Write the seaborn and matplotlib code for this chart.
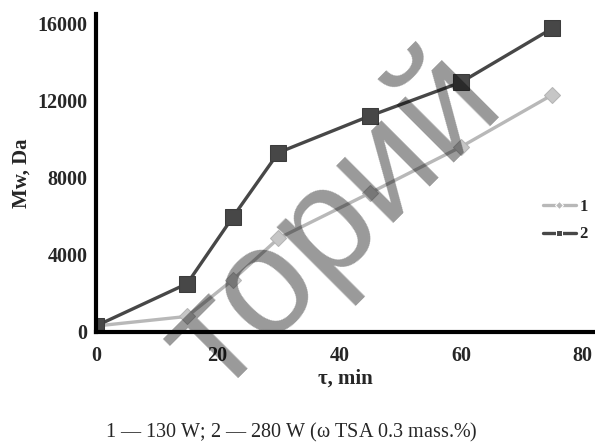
import matplotlib
matplotlib.use('Agg')
import matplotlib.pyplot as plt
import pandas as pd
import seaborn as sns

# values
time_min = [0, 15, 22.5, 30, 45, 60, 75]
mw_130 = [300, 800, 2700, 4850, 7200, 9600, 12300]
mw_280 = [300, 2500, 5950, 9300, 11200, 12950, 15750]
series_names = ['1', '2']
x_ticks = [0, 20, 40, 60, 80]
y_ticks = [0, 4000, 8000, 12000, 16000]

data = pd.DataFrame({
    'time': time_min * 2,
    'mw': mw_130 + mw_280,
    'series': [series_names[0]] * len(time_min) + [series_names[1]] * len(time_min),
})

sns.set_style('white')
plt.rcParams['font.family'] = ['Liberation Serif', 'DejaVu Serif']
plt.rcParams['mathtext.fontset'] = 'custom'
plt.rcParams['mathtext.rm'] = 'Liberation Serif'
plt.rcParams['mathtext.it'] = 'Liberation Serif:italic'

fig = plt.figure(figsize=(5.95, 4.46), dpi=100)
ax = fig.add_axes([0.161, 0.256, 0.839, 0.713])

palette = {'1': '#b8b8b8', '2': '#474747'}
sns.lineplot(data=data, x='time', y='mw', hue='series', style='series',
             markers={'1': 'D', '2': 's'}, dashes=False, palette=palette,
             linewidth=2.4, ax=ax, legend=True)
ax.lines[0].set_markersize(8)
ax.lines[0].set_markerfacecolor('#c6c6c6')
ax.lines[0].set_markeredgecolor('#b4b4b4')
ax.lines[1].set_markersize(11)
ax.lines[1].set_markeredgecolor('#3c3c3c')

ax.set_xlim(0, 82)
ax.set_ylim(0, 16500)
ax.set_xticks(x_ticks)
ax.set_yticks(y_ticks)
ax.tick_params(length=0, labelsize=14.5)
ax.tick_params(axis='x', pad=10)
ax.tick_params(axis='y', pad=6)
for lbl in ax.get_xticklabels() + ax.get_yticklabels():
    lbl.set_fontweight('bold')

for side in ['top', 'right']:
    ax.spines[side].set_visible(False)
for side in ['left', 'bottom']:
    ax.spines[side].set_linewidth(3)
    ax.spines[side].set_color('black')

ax.set_xlabel('τ, min', fontsize=15, fontweight='bold', labelpad=2)
ax.set_ylabel('Mw, Da', fontsize=15, fontweight='bold', labelpad=4)

leg = ax.legend(loc='center left', bbox_to_anchor=(0.895, 0.35), frameon=False,
                fontsize=12, handlelength=2.0, handletextpad=0.2, labelspacing=0.7,
                borderpad=0, borderaxespad=0, markerscale=0.7)
for t in leg.get_texts():
    t.set_fontweight('bold')

# caption
fig.text(0.49, 0.031, r'$\mathit{1}$ — 130 W; $\mathit{2}$ — 280 W (ω TSA 0.3 mass.%)',
         ha='center', va='center', fontsize=14.5)

# watermark, kept inside the figure
fig.text(0.56, 0.5, 'торий', rotation=45, fontsize=110, color='black', alpha=0.4,
         ha='center', va='center', family='Liberation Sans', zorder=10)

fig.savefig('out.png', dpi=100)
